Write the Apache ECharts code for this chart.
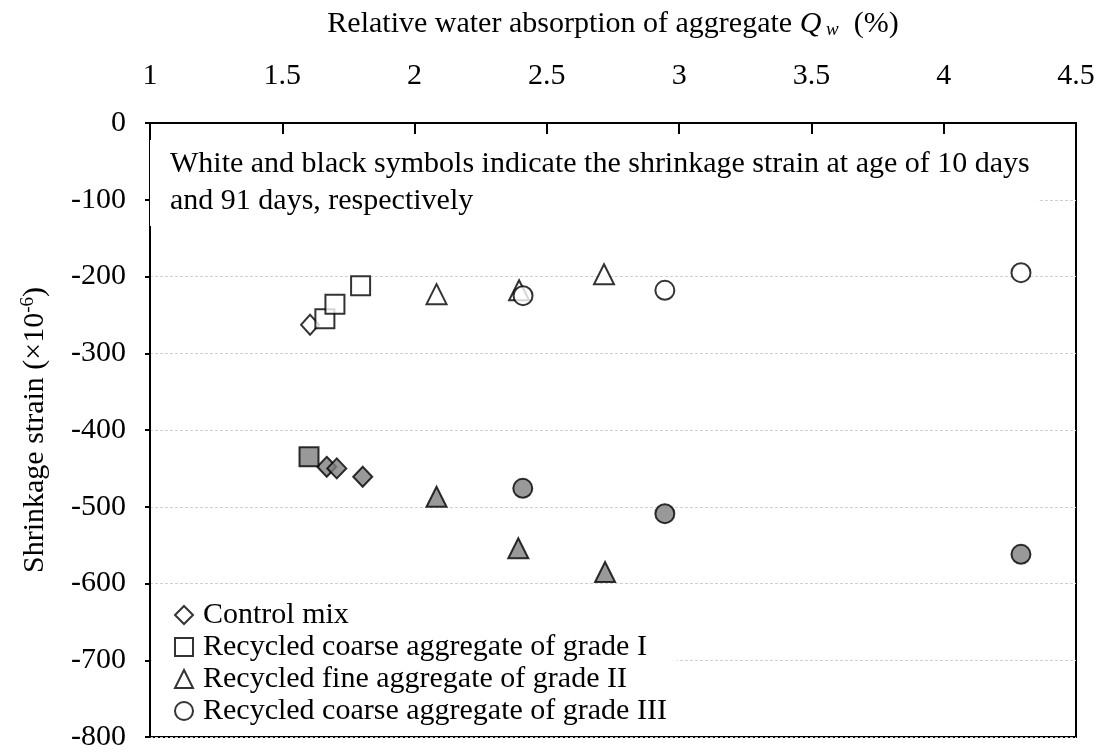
<!DOCTYPE html>
<html>
<head>
<meta charset="utf-8">
<title>Shrinkage strain vs water absorption</title>
<script src="https://cdn.jsdelivr.net/npm/echarts@6/dist/echarts.min.js"></script>
<style>
  html, body { margin: 0; padding: 0; background: #fff; }
  #main { width: 1101px; height: 754px; }
</style>
</head>
<body>
<div id="main"></div>
<script>
// x = relative water absorption Qw (%), y = shrinkage strain (x10^-6)
var xTicks = [1, 4.5, 0.5];    // min, max, step
var yTicks = [-800, 0, 100];

// white symbols: age of 10 days
var control10 = [[1.605, -263]];
var grade1_10 = [[1.661, -255], [1.699, -236], [1.796, -212]];
var grade2_10 = [[2.083, -223], [2.395, -218], [2.716, -197]];
var grade3_10 = [[2.41, -225], [2.946, -218], [4.292, -195]];

// black (grey) symbols: age of 91 days
var control91 = [[1.668, -448], [1.706, -450], [1.804, -461]];
var grade1_91 = [[1.601, -435]];
var grade2_91 = [[2.083, -487], [2.392, -554], [2.72, -585]];
var grade3_91 = [[2.409, -476], [2.946, -509], [4.292, -562]];

var legendNames = [
  "Control mix",
  "Recycled coarse aggregate of grade I",
  "Recycled fine aggregate of grade II",
  "Recycled coarse aggregate of grade III"
];

var note = "White and black symbols indicate the shrinkage strain at age of 10 days\nand 91 days, respectively";

var FONT = "'Liberation Serif', 'Times New Roman', serif";

function pts(name, data, symbol, size, filled) {
  return {
    name: name,
    type: "scatter",
    data: data,
    symbol: symbol,
    symbolSize: size,
    itemStyle: {
      color: filled ? "#808080" : "#ffffff",
      borderColor: "#000",
      borderWidth: 2
    },
    z: filled ? 3 : 4
  };
}

var myChart = echarts.init(document.getElementById("main"));
var option = {
  animation: false,
  backgroundColor: "#fff",
  textStyle: { fontFamily: FONT, color: "#000" },
  grid: {
    left: 150, right: 25, top: 123, bottom: 17,
    show: true, borderColor: "#000", borderWidth: 2
  },
  legend: {
    data: legendNames,
    orient: "vertical",
    left: 152,
    top: 596,
    padding: [4, 10, 4, 22],
    itemGap: 2,
    itemWidth: 18,
    itemHeight: 18,
    backgroundColor: "#fff",
    textStyle: { fontFamily: FONT, fontSize: 30, lineHeight: 30, color: "#000", padding: [0, 0, 0, 5] }
  },
  xAxis: {
    type: "value",
    position: "top",
    min: xTicks[0], max: xTicks[1], interval: xTicks[2],
    name: "Relative water absorption of aggregate {q|Q}{w| w}  (%)",
    nameLocation: "middle",
    nameGap: 84,
    nameTextStyle: {
      fontFamily: FONT, fontSize: 30, color: "#000",
      rich: {
        q: { fontFamily: FONT, fontSize: 30, fontStyle: "italic", color: "#000" },
        w: { fontFamily: FONT, fontSize: 19, fontStyle: "italic", color: "#000", verticalAlign: "bottom", padding: [11, 0, 0, 0] }
      }
    },
    axisLine: { lineStyle: { color: "#000", width: 2 } },
    axisTick: { inside: true, length: 11, lineStyle: { color: "#000", width: 2 } },
    axisLabel: { fontFamily: FONT, fontSize: 30, color: "#000", margin: 32 },
    splitLine: { show: false }
  },
  yAxis: {
    type: "value",
    min: yTicks[0], max: yTicks[1], interval: yTicks[2],
    name: "Shrinkage strain (×10{s|-6})",
    nameLocation: "middle",
    nameGap: 99,
    nameTextStyle: {
      fontFamily: FONT, fontSize: 30, color: "#000",
      rich: {
        s: { fontFamily: FONT, fontSize: 19, color: "#000", verticalAlign: "top", padding: [0, 0, 13, 0] }
      }
    },
    axisLine: { lineStyle: { color: "#000", width: 2 } },
    axisTick: { length: 5, lineStyle: { color: "#000", width: 2 } },
    axisLabel: { fontFamily: FONT, fontSize: 30, color: "#000", margin: 24 },
    splitLine: { lineStyle: { color: "#d0d0d0", width: 1, type: [3, 2] } }
  },
  graphic: [
    {
      type: "text",
      left: 150,
      top: 140,
      z: 10,
      style: {
        text: note,
        font: "30px " + FONT,
        fill: "#000",
        lineHeight: 37,
        backgroundColor: "#fff",
        padding: [6, 8, 6, 20]
      }
    }
  ],
  series: [
    pts(legendNames[0], control10, "diamond", [18, 20], false),
    pts(legendNames[1], grade1_10, "rect", 19, false),
    pts(legendNames[2], grade2_10, "triangle", 20, false),
    pts(legendNames[3], grade3_10, "circle", 19, false),
    pts("Control mix 91 d", control91, "diamond", [19, 20], true),
    pts("Grade I 91 d", grade1_91, "rect", 19, true),
    pts("Grade II 91 d", grade2_91, "triangle", 20, true),
    pts("Grade III 91 d", grade3_91, "circle", 19, true)
  ]
};
myChart.setOption(option);
</script>
</body>
</html>
